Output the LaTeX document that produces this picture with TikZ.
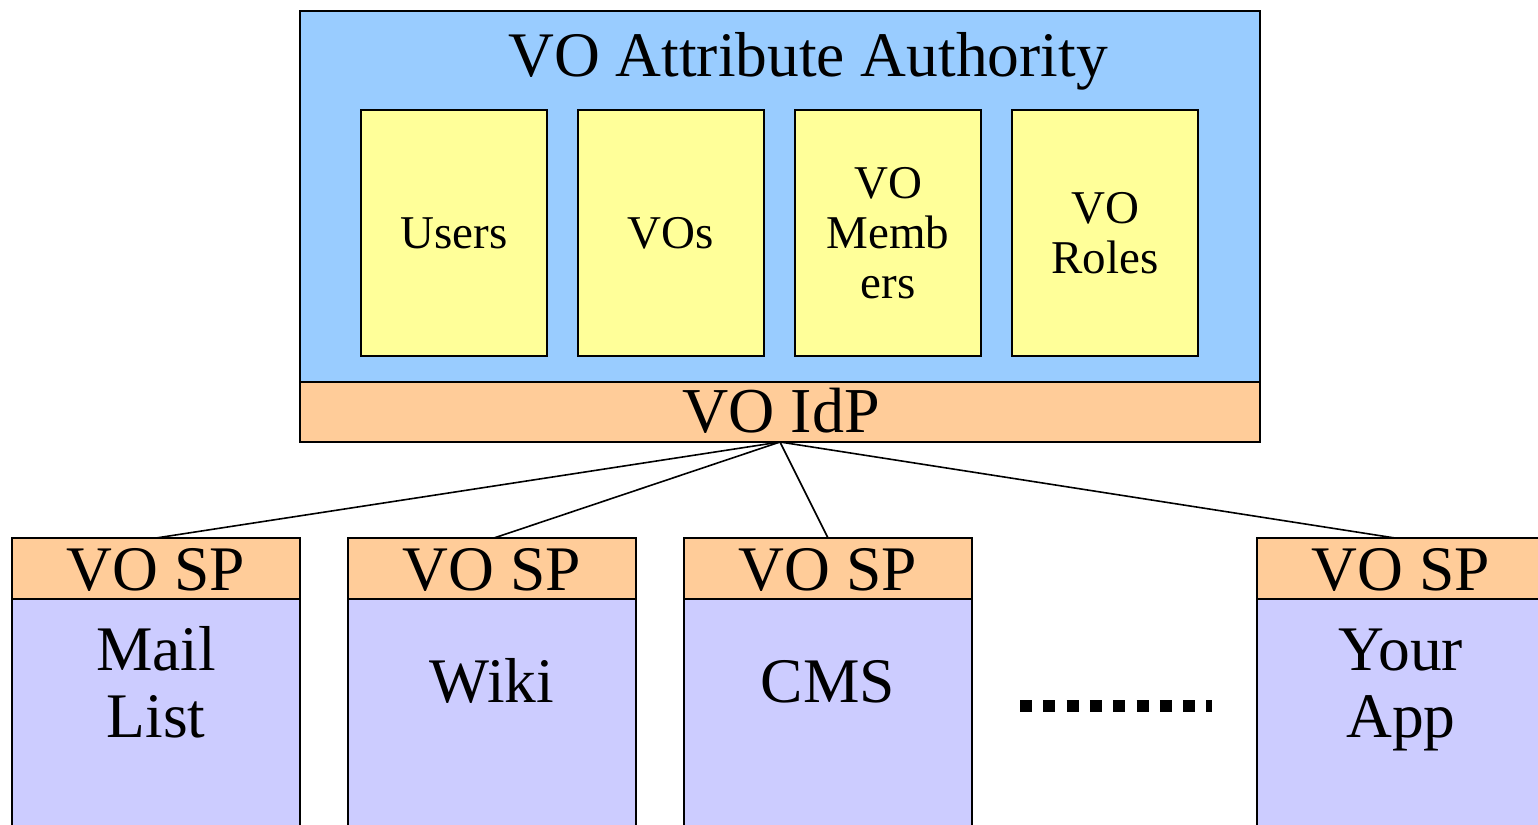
\documentclass[tikz,border=0pt]{standalone}
\usepackage{fontspec}
\setmainfont{Liberation Serif}
\definecolor{aablue}{HTML}{99CCFF}
\definecolor{idporange}{HTML}{FFCC99}
\definecolor{storeyellow}{HTML}{FFFF99}
\definecolor{applilac}{HTML}{CCCCFF}
\begin{document}
\begin{tikzpicture}[x=1pt,y=-1pt,
  box/.style={draw=black,line width=2pt,anchor=north west,inner sep=0pt,outer sep=0pt},
  store/.style={box,fill=storeyellow,minimum width=186pt,minimum height=246pt,
    align=center,font=\fontsize{47}{50}\selectfont},
  sphead/.style={box,fill=idporange,minimum width=288pt,minimum height=61pt},
  spbody/.style={box,fill=applilac,minimum width=288pt,minimum height=260pt},
  bigtext/.style={font=\fontsize{63.5}{67}\selectfont,inner sep=0pt,anchor=base},
  link/.style={line width=1.6pt}]
\useasboundingbox (0,0) rectangle (1538,824);

% attribute authority and its IdP front end
\node[box,fill=aablue,minimum width=960pt,minimum height=371pt] (aa) at (300,11) {};
\node[box,fill=idporange,minimum width=960pt,minimum height=60pt] (idp) at (300,382) {};
\node[bigtext] (aatitle) at (808,77) {VO Attribute Authority};
\node[bigtext,font=\fontsize{64}{67}\selectfont] (idptitle) at (781,432) {VO IdP};

% attribute stores
\node[store] (users)   at (361,110) {Users};
\node[store] (vos)     at (578,110) {VOs};
\node[store] (members) at (795,110) {VO\\Memb\\ers};
\node[store] (roles)   at (1012,110) {VO\\Roles};

% service providers
\foreach \n/\x in {a/12,b/348,c/684,d/1257}{
  \node[spbody] (body\n) at (\x,599) {};
  \node[sphead] (sp\n) at (\x,538) {};
  \node[bigtext] (splabel\n) at ([yshift=9pt]sp\n.south) {VO SP};
}
\node[bigtext] (mail) at (156,670) {Mail};
\node[bigtext] (list) at (156,737) {List};
\node[bigtext] (wiki) at (492,702) {Wiki};
\node[bigtext] (cms)  at (828,702) {CMS};
\node[bigtext] (your) at (1401,670) {Your};
\node[bigtext] (app)  at (1401,737) {App};

% connectors from the IdP to each SP
\coordinate (hub) at (idp.south);
\draw[link] (hub) -- (spa.north);
\draw[link] (hub) -- ([xshift=2pt]spb.north);
\draw[link] (hub) -- (spc.north);
\draw[link] (hub) -- ([xshift=-6pt]spd.north);

% ellipsis between the SPs
\draw[line width=12pt,dash pattern=on 12pt off 11.3pt] (1020,706) -- (1212,706);
\end{tikzpicture}
\end{document}
